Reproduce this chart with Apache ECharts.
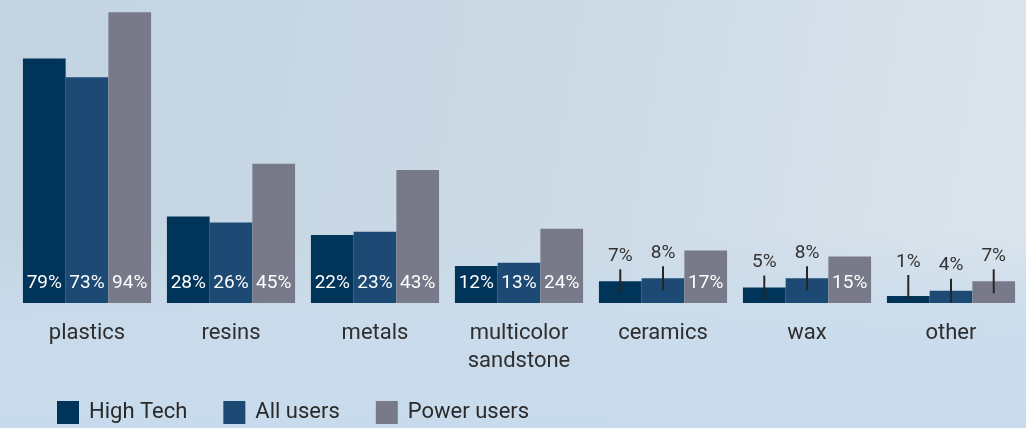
<!DOCTYPE html>
<html>
<head>
<meta charset="utf-8">
<script src="https://cdn.jsdelivr.net/npm/echarts@6/dist/echarts.min.js"></script>
<style>
html,body{margin:0;padding:0;}
#c{width:1026px;height:428px;}
</style>
</head>
<body>
<div id="c"></div>
<script>
const categories = ['plastics', 'resins', 'metals', 'multicolor\nsandstone', 'ceramics', 'wax', 'other'];
const seriesNames = ['High Tech', 'All users', 'Power users'];
const highTech = [79, 28, 22, 12, 7, 5, 1];
const allUsers = [73, 26, 23, 13, 8, 8, 4];
const powerUsers = [94, 45, 43, 24, 17, 15, 7];
const colors = ['#003458', '#1d4a75', '#787a8a'];

const FONT = 'Roboto';

function buildData(values) {
  return values.map(v => {
    if (v >= 10) {
      return {
        value: v,
        label: {
          show: true, position: 'insideBottom', distance: 10,
          color: '#ffffff', fontSize: 19, fontFamily: FONT,
          formatter: '{c}%'
        }
      };
    }
    return {
      value: v,
      label: {
        show: true, position: 'top', distance: 0,
        offset: [0, v < 3 ? 3 : 12],
        formatter: '{v|{c}%}\n{l|}',
        rich: {
          v: { fontSize: 19, fontFamily: FONT, color: '#333333', lineHeight: 26, align: 'center' },
          l: { width: 2, height: 24, backgroundColor: '#262626', align: 'center' }
        }
      }
    };
  });
}

const chart = echarts.init(document.getElementById('c'), null, { renderer: 'canvas' });
chart.setOption({
  backgroundColor: {
    type: 'linear', x: 0, y: 0, x2: 1, y2: 0.4,
    colorStops: [
      { offset: 0, color: '#c2d3e2' },
      { offset: 0.5, color: '#cbd9e5' },
      { offset: 1, color: '#dae4ec' }
    ]
  },
  graphic: [{
    type: 'rect', silent: true, z: -10,
    shape: { x: 0, y: 230, width: 1026, height: 198 },
    style: {
      fill: {
        type: 'linear', x: 0, y: 0, x2: 0, y2: 1,
        colorStops: [
          { offset: 0, color: 'rgba(202,220,236,0)' },
          { offset: 0.45, color: 'rgba(202,220,236,0.9)' },
          { offset: 1, color: 'rgba(200,219,236,1)' }
        ]
      }
    }
  }],
  animation: false,
  color: colors,
  textStyle: { fontFamily: FONT },
  grid: { left: 15, right: 3, top: 6, bottom: 125, containLabel: false },
  legend: {
    left: 52, top: 396,
    itemWidth: 22, itemHeight: 23, itemGap: 36,
    icon: 'rect',
    textStyle: { fontSize: 22, color: '#2a2a2a', fontFamily: FONT, padding: [0, 0, 0, 5] },
    data: seriesNames
  },
  xAxis: {
    type: 'category',
    data: categories,
    axisLine: { show: false },
    axisTick: { show: false },
    axisLabel: { fontSize: 22, color: '#2e2e2e', margin: 16, lineHeight: 28, fontFamily: FONT, interval: 0 }
  },
  yAxis: {
    type: 'value', min: 0, max: 96, show: false,
    splitLine: { show: false }
  },
  series: [
    { name: seriesNames[0], type: 'bar', data: buildData(highTech), barGap: '0%', barCategoryGap: '11%', barMinHeight: 7 },
    { name: seriesNames[1], type: 'bar', data: buildData(allUsers), barGap: '0%', barCategoryGap: '11%', barMinHeight: 7 },
    { name: seriesNames[2], type: 'bar', data: buildData(powerUsers), barGap: '0%', barCategoryGap: '11%', barMinHeight: 7 }
  ]
});
</script>
</body>
</html>
